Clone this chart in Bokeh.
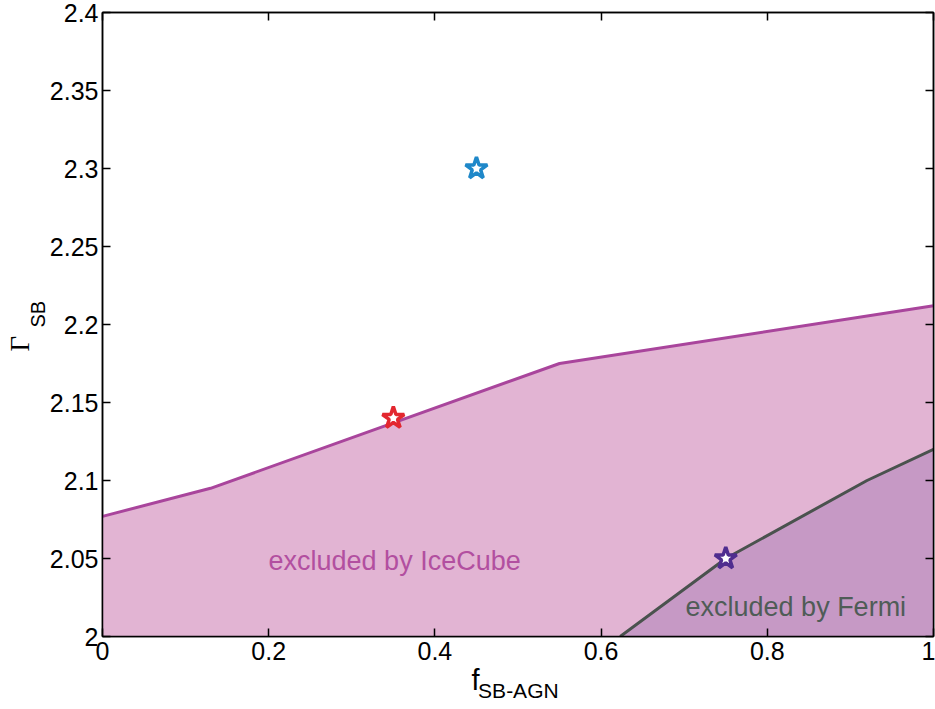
import math
from bokeh.plotting import figure
from bokeh.models import Range1d, LinearAxis, FixedTicker, Label
from bokeh.embed import file_html
from bokeh.resources import INLINE

# Data
icecube_x = [0.0, 0.13, 0.55, 1.0]
icecube_y = [2.077, 2.095, 2.175, 2.212]
fermi_x = [0.623, 0.75, 0.92, 1.0]
fermi_y = [2.0, 2.05, 2.10, 2.12]
star_x = [0.45, 0.35, 0.75]
star_y = [2.30, 2.14, 2.05]
star_colors = ["#1f88c9", "#e3272f", "#4f2d8f"]
x_ticks = [0, 0.2, 0.4, 0.6, 0.8, 1.0]
x_tick_labels = ["0", "0.2", "0.4", "0.6", "0.8", "1"]
y_ticks = [2.0, 2.05, 2.1, 2.15, 2.2, 2.25, 2.3, 2.35, 2.4]
y_tick_labels = ["2", "2.05", "2.1", "2.15", "2.2", "2.25", "2.3", "2.35", "2.4"]

FONT = "Liberation Sans"

p = figure(width=935, height=709, output_backend="svg", toolbar_location=None,
           x_range=Range1d(0, 1), y_range=Range1d(2.0, 2.4),
           min_border_left=102, min_border_right=2, min_border_top=12, min_border_bottom=73)
p.grid.visible = False
p.outline_line_color = "black"
p.outline_line_width = 1.5
p.background_fill_color = "white"
p.border_fill_color = "white"

# Regions
p.varea(x=icecube_x, y1=[2.0] * len(icecube_x), y2=icecube_y, fill_color="#e2b4d3")
p.varea(x=fermi_x, y1=[2.0] * len(fermi_x), y2=fermi_y, fill_color="#c699c5")
p.line(icecube_x, icecube_y, line_color="#a9459c", line_width=3)
p.line(fermi_x, fermi_y, line_color="#4a524e", line_width=3)

# Stars
p.scatter(star_x, star_y, marker="star", size=23, fill_color="white",
          line_color=star_colors, line_width=3.5)

def style_axis(ax, show_labels=True):
    ax.major_tick_in = 8
    ax.major_tick_out = 0
    ax.minor_tick_in = 0
    ax.minor_tick_out = 0
    ax.axis_line_color = "black"
    ax.axis_line_width = 1.5
    ax.major_tick_line_color = "black"
    ax.major_tick_line_width = 1.5
    ax.major_label_text_font = FONT
    ax.major_label_text_color = "black"
    if show_labels:
        ax.major_label_text_font_size = "25px"
    else:
        ax.major_label_text_font_size = "1px"
        ax.major_label_standoff = 0

xa = p.xaxis[0]
xa.ticker = FixedTicker(ticks=x_ticks)
xa.major_label_overrides = {t: l for t, l in zip(x_ticks, x_tick_labels)}
style_axis(xa)
xa.major_label_standoff = 5

ya = p.yaxis[0]
ya.ticker = FixedTicker(ticks=y_ticks)
ya.major_label_overrides = {t: l for t, l in zip(y_ticks, y_tick_labels)}
style_axis(ya)
ya.major_label_standoff = 4

top = LinearAxis(ticker=FixedTicker(ticks=x_ticks))
top.major_label_overrides = {t: "" for t in x_ticks}
style_axis(top, False)
p.add_layout(top, "above")
right = LinearAxis(ticker=FixedTicker(ticks=y_ticks))
right.major_label_overrides = {t: "" for t in y_ticks}
style_axis(right, False)
p.add_layout(right, "right")

# Region labels
p.add_layout(Label(x=0.1998, y=2.0487, text="excluded by IceCube", text_font=FONT,
                   text_font_size="27px", text_color="#b24fa0", text_baseline="alphabetic"))
p.add_layout(Label(x=0.7016, y=2.0186, text="excluded by Fermi", text_font=FONT,
                   text_font_size="27px", text_color="#4f5c57", text_baseline="alphabetic"))

# Axis titles (placed in side panels so they are not clipped by the frame)
p.add_layout(Label(x=0.444, y=1.9724, text="f", text_font=FONT, text_font_size="29px",
                   text_color="black", text_baseline="alphabetic"), "left")
p.add_layout(Label(x=0.452, y=1.9654, text="SB-AGN", text_font=FONT, text_font_size="21px",
                   text_color="black", text_baseline="alphabetic"), "below")
p.add_layout(Label(x=-0.0987, y=2.1827, text="Γ", text_font="Liberation Serif", text_font_size="27px",
                   text_color="black", text_baseline="alphabetic", angle=math.pi / 2), "below")
p.add_layout(Label(x=-0.0782, y=2.19808, text="SB", text_font=FONT, text_font_size="20px",
                   text_color="black", text_baseline="alphabetic", angle=math.pi / 2), "left")

open("out.html", "w").write(file_html(p, INLINE))
